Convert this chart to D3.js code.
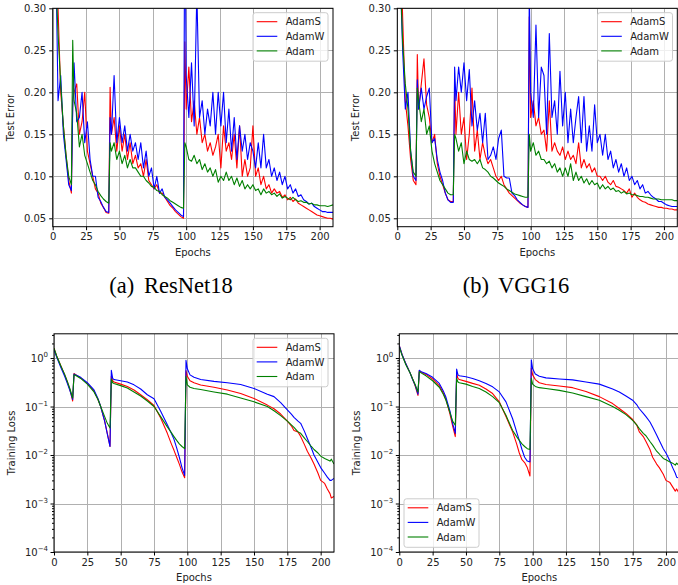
<!DOCTYPE html>
<html><head><meta charset="utf-8">
<script src="https://cdn.jsdelivr.net/npm/d3@7"></script>
<style>
body{margin:0;background:#fff}
svg{display:block}
</style>
</head><body>
<svg id="c" width="678" height="585"></svg>
<script>
// ---------------- DATA ----------------
const seriesNames = ["AdamS", "AdamW", "Adam"];
const xTicks = [0, 25, 50, 75, 100, 125, 150, 175, 200];
const errTicks = [0.05, 0.10, 0.15, 0.20, 0.25, 0.30];
const lossTicks = [1e-4, 1e-3, 1e-2, 1e-1, 1];
const captions = ["(a) ResNet18", "(b) VGG16"];

// Test-error samples (epochs)
const epochsErr = [0,2,4,6,8,10,12,14,15,16,18,20,22,24,26,28,30,32,34,36,38,40,42,43,44,46,48,50,52,54,56,58,60,62,64,66,68,70,72,74,76,78,80,82,84,86,88,90,92,94,96,98,99,100,102,104,106,108,110,112,114,116,118,120,122,124,126,128,130,132,134,136,138,140,142,144,146,148,150,152,154,156,158,160,162,164,166,168,170,172,174,176,178,180,182,184,186,188,190,192,194,196,198,200,202,204,206,208,210];

const resnetErrAdamS = [0.60,0.40,0.30,0.20,0.16,0.125,0.095,0.080,
 0.19,
 0.20,0.21,0.15,0.165,0.20,0.13,0.115,0.10,0.085,0.08,0.068,0.063,0.057,0.056,
 0.206,
 0.15,0.17,0.13,0.16,0.13,0.15,0.12,0.14,0.115,0.125,0.11,0.115,0.10,0.12,0.095,0.09,0.085,0.09,0.08,0.08,0.075,0.07,0.065,0.062,0.058,0.055,0.052,0.050,
 0.26,
 0.18,0.23,0.165,0.19,0.15,0.17,0.14,0.15,0.13,0.14,0.125,0.135,0.15,0.11,0.16,0.13,0.14,0.12,0.15,0.11,0.16,0.10,0.12,0.10,0.11,0.16,0.10,0.11,0.09,0.10,0.085,0.09,0.08,0.085,0.08,0.082,0.075,0.078,0.072,0.075,0.07,0.073,0.068,0.066,0.064,0.062,0.06,0.058,0.056,0.054,0.053,0.052,0.051,0.050,0.050,0.049];
const resnetErrAdamW = [0.60,0.40,0.19,0.22,0.15,0.12,0.09,0.083,
 0.18,
 0.235,0.165,0.17,0.20,0.14,0.165,0.12,0.10,0.10,0.075,0.07,0.063,0.058,0.057,
 0.17,
 0.15,0.22,0.14,0.17,0.14,0.16,0.13,0.15,0.13,0.14,0.12,0.14,0.11,0.13,0.10,0.11,0.085,0.10,0.08,0.085,0.075,0.072,0.068,0.064,0.06,0.057,0.054,0.052,
 0.45,
 0.22,0.17,0.235,0.16,0.32,0.17,0.19,0.15,0.18,0.16,0.20,0.15,0.20,0.16,0.20,0.14,0.18,0.13,0.17,0.12,0.16,0.13,0.15,0.12,0.14,0.13,0.11,0.14,0.11,0.15,0.11,0.12,0.10,0.11,0.095,0.105,0.09,0.10,0.085,0.09,0.08,0.085,0.076,0.078,0.072,0.07,0.067,0.068,0.064,0.062,0.060,0.058,0.058,0.057,0.057,0.057];
const resnetErrAdam = [0.60,0.35,0.27,0.21,0.16,0.125,0.10,0.09,
 0.262,
 0.19,0.175,0.135,0.15,0.125,0.115,0.105,0.095,0.09,0.082,0.077,0.073,0.07,0.068,
 0.14,
 0.13,0.14,0.12,0.13,0.115,0.125,0.11,0.12,0.11,0.11,0.105,0.10,0.10,0.095,0.092,0.088,0.087,0.083,0.082,0.078,0.076,0.074,0.071,0.069,0.067,0.065,0.063,0.062,
 0.14,
 0.135,0.12,0.118,0.125,0.115,0.12,0.108,0.115,0.105,0.11,0.10,0.108,0.093,0.10,0.095,0.105,0.095,0.10,0.09,0.098,0.088,0.095,0.085,0.09,0.085,0.09,0.083,0.085,0.078,0.085,0.08,0.082,0.078,0.08,0.076,0.079,0.074,0.076,0.074,0.072,0.075,0.072,0.07,0.071,0.069,0.069,0.067,0.068,0.066,0.066,0.065,0.065,0.065,0.064,0.065,0.066];

const vggErrAdamS = [0.60,0.40,0.29,0.19,0.16,0.12,0.095,0.09,
 0.245,
 0.18,0.21,0.24,0.185,0.17,0.14,0.15,0.115,0.10,0.09,0.08,0.072,0.07,0.07,
 0.21,
 0.15,0.20,0.15,0.17,0.12,0.15,0.205,0.13,0.155,0.12,0.14,0.125,0.115,0.12,0.11,0.10,0.095,0.10,0.09,0.085,0.08,0.077,0.074,0.071,0.068,0.066,0.064,0.063,
 0.29,
 0.17,0.19,0.16,0.17,0.15,0.155,0.13,0.19,0.13,0.14,0.13,0.125,0.135,0.12,0.13,0.12,0.125,0.115,0.14,0.11,0.12,0.11,0.115,0.105,0.11,0.10,0.10,0.095,0.10,0.093,0.09,0.095,0.088,0.087,0.085,0.083,0.08,0.085,0.075,0.08,0.075,0.072,0.07,0.069,0.067,0.066,0.065,0.064,0.063,0.063,0.062,0.062,0.061,0.061,0.060,0.060];
const vggErrAdamW = [0.60,0.35,0.25,0.18,0.20,0.13,0.10,0.095,
 0.215,
 0.18,0.205,0.18,0.195,0.205,0.14,0.145,0.12,0.105,0.095,0.08,0.072,0.069,0.069,
 0.23,
 0.19,0.23,0.20,0.235,0.19,0.227,0.16,0.19,0.155,0.175,0.14,0.175,0.12,0.125,0.135,0.12,0.145,0.155,0.10,0.098,0.098,0.08,0.077,0.072,0.069,0.066,0.064,0.063,
 0.32,
 0.20,0.17,0.28,0.17,0.23,0.22,0.15,0.27,0.17,0.19,0.15,0.225,0.16,0.20,0.14,0.18,0.14,0.17,0.195,0.14,0.195,0.13,0.16,0.13,0.185,0.14,0.15,0.125,0.15,0.12,0.13,0.11,0.12,0.105,0.115,0.10,0.11,0.095,0.10,0.09,0.095,0.085,0.09,0.08,0.082,0.078,0.075,0.073,0.07,0.07,0.068,0.066,0.065,0.064,0.064,0.064];
const vggErrAdam = [0.60,0.35,0.26,0.21,0.18,0.13,0.105,0.10,
 0.205,
 0.19,0.165,0.18,0.15,0.16,0.13,0.115,0.105,0.095,0.09,0.085,0.08,0.078,0.078,
 0.15,
 0.145,0.13,0.14,0.115,0.13,0.12,0.118,0.12,0.115,0.12,0.11,0.108,0.105,0.10,0.098,0.095,0.092,0.09,0.088,0.085,0.083,0.081,0.079,0.078,0.077,0.076,0.075,0.075,
 0.15,
 0.13,0.14,0.125,0.13,0.12,0.12,0.115,0.118,0.11,0.115,0.105,0.11,0.10,0.11,0.10,0.115,0.095,0.105,0.095,0.10,0.092,0.097,0.09,0.095,0.09,0.092,0.085,0.09,0.085,0.088,0.084,0.086,0.082,0.083,0.08,0.082,0.079,0.08,0.078,0.078,0.077,0.076,0.076,0.075,0.075,0.074,0.073,0.073,0.073,0.072,0.072,0.072,0.072,0.072,0.071,0.071];

// Training-loss samples (epochs)
const epochsLoss = [0,2,5,8,10,12,14,15,16,20,25,30,33,35,38,40,42,43,44,45,50,55,60,65,70,75,80,85,88,90,92,94,96,98,99,100,102,105,110,120,130,140,150,160,165,170,175,178,180,183,185,188,190,193,195,198,200,203,205,207,208,210];

const resnetLossAdamS = [1.6,1.1,0.7,0.45,0.32,0.22,0.13,
 0.48,0.46,0.39,0.30,0.21,0.14,0.10,0.05,0.028,0.015,
 0.42,0.34,0.32,0.29,0.26,0.22,0.175,0.138,0.105,0.058,0.028,0.017,0.0125,0.009,0.0065,0.0045,0.0034,
 0.55,0.42,0.34,0.31,0.277,0.25,0.22,0.185,0.147,0.107,0.09,0.07,0.05,0.04,0.032,0.03,0.024,0.016,0.012,0.0085,0.0065,0.0042,0.003,0.0026,0.002,0.0016,0.0013,0.0014];
const resnetLossAdamW = [1.5,1.05,0.65,0.42,0.30,0.21,0.14,
 0.47,0.45,0.40,0.31,0.22,0.145,0.10,0.05,0.027,0.015,
 0.56,0.38,0.36,0.34,0.32,0.28,0.23,0.175,0.145,0.08,0.042,0.028,0.021,0.014,0.009,0.0055,0.0038,
 0.9,0.6,0.45,0.4,0.36,0.33,0.31,0.285,0.236,0.18,0.16,0.12,0.085,0.07,0.06,0.05,0.045,0.03,0.022,0.014,0.01,0.007,0.0055,0.0042,0.0035,0.003,0.003,0.0033];
const resnetLossAdam = [1.6,1.1,0.7,0.46,0.33,0.23,0.15,
 0.45,0.44,0.38,0.29,0.20,0.14,0.10,0.062,0.045,0.036,
 0.37,0.31,0.30,0.27,0.24,0.20,0.165,0.13,0.10,0.062,0.038,0.029,0.024,0.02,0.017,0.015,0.0135,
 0.42,0.28,0.25,0.235,0.225,0.20,0.18,0.15,0.125,0.1,0.082,0.065,0.05,0.042,0.037,0.03,0.028,0.022,0.019,0.015,0.013,0.011,0.0095,0.0085,0.008,0.0075,0.0082,0.0065];

const vggLossAdamS = [1.8,1.2,0.75,0.5,0.37,0.26,0.17,
 0.55,0.52,0.46,0.37,0.27,0.19,0.14,0.07,0.04,0.024,
 0.48,0.38,0.36,0.33,0.30,0.275,0.23,0.185,0.125,0.062,0.03,0.017,0.011,0.008,0.007,0.0055,0.0037,
 0.62,0.45,0.36,0.31,0.285,0.265,0.245,0.205,0.16,0.115,0.091,0.072,0.054,0.042,0.03,0.024,0.019,0.013,0.009,0.0065,0.0055,0.004,0.003,0.0027,0.0022,0.0018,0.002,0.0016];
const vggLossAdamW = [1.8,1.2,0.75,0.5,0.36,0.27,0.18,
 0.56,0.53,0.48,0.40,0.30,0.21,0.155,0.08,0.045,0.028,
 0.59,0.45,0.43,0.41,0.38,0.34,0.30,0.255,0.2,0.125,0.056,0.03,0.02,0.013,0.009,0.0075,0.0072,
 0.92,0.6,0.47,0.42,0.39,0.37,0.355,0.32,0.29,0.23,0.2,0.165,0.135,0.11,0.09,0.072,0.062,0.048,0.038,0.026,0.02,0.0135,0.011,0.0075,0.0055,0.0042,0.0035,0.0033];
const vggLossAdam = [1.7,1.15,0.72,0.5,0.37,0.28,0.2,
 0.52,0.50,0.43,0.34,0.25,0.18,0.135,0.075,0.05,0.041,
 0.38,0.32,0.31,0.29,0.26,0.236,0.20,0.16,0.12,0.066,0.032,0.024,0.02,0.017,0.015,0.0135,0.013,
 0.38,0.29,0.26,0.245,0.236,0.215,0.19,0.16,0.135,0.1,0.084,0.068,0.052,0.042,0.035,0.028,0.025,0.019,0.016,0.012,0.0105,0.0085,0.008,0.0072,0.0068,0.0062,0.0068,0.006];

// ---------------- DRAWING ----------------
const colorOf = {AdamS: "#ff0000", AdamW: "#0000ff", Adam: "#008000"};
const FONT = "'DejaVu Sans', sans-serif";
const svg = d3.select("#c");
let clipN = 0;

function drawPanel(o) {
  const x = d3.scaleLinear().domain([0, 210]).range([o.x0, o.x1]);
  const y = (o.log ? d3.scaleLog() : d3.scaleLinear()).domain(o.yDomain).range([o.y1, o.y0]);
  const g = svg.append("g");
  const id = "clip" + (clipN++);
  g.append("clipPath").attr("id", id).append("rect")
    .attr("x", o.x0).attr("y", o.y0).attr("width", o.x1 - o.x0).attr("height", o.y1 - o.y0);

  // grid
  const grid = g.append("g").attr("stroke", "#b0b0b0").attr("stroke-width", 1).attr("shape-rendering", "crispEdges");
  grid.selectAll(".gx").data(xTicks).join("line")
    .attr("x1", d => Math.round(x(d)) + 0.5).attr("x2", d => Math.round(x(d)) + 0.5)
    .attr("y1", o.y0).attr("y2", o.y1);
  grid.selectAll(".gy").data(o.yTicks).join("line")
    .attr("y1", d => Math.round(y(d)) + 0.5).attr("y2", d => Math.round(y(d)) + 0.5)
    .attr("x1", o.x0).attr("x2", o.x1);

  // lines
  const lg = g.append("g").attr("clip-path", `url(#${id})`);
  const line = d3.line().x((d, i) => x(o.epochs[i])).y(d => y(d));
  seriesNames.forEach((name, k) => {
    lg.append("path").datum(o.series[k])
      .attr("fill", "none").attr("stroke", colorOf[name]).attr("stroke-width", 1.1)
      .attr("stroke-linejoin", "round").attr("d", line);
  });

  // frame
  g.append("rect").attr("x", o.x0).attr("y", o.y0).attr("width", o.x1 - o.x0).attr("height", o.y1 - o.y0)
    .attr("fill", "none").attr("stroke", "#000").attr("stroke-width", 1);

  // x axis
  const ax = g.append("g").attr("transform", `translate(0,${o.y1})`)
    .call(d3.axisBottom(x).tickValues(xTicks).tickSize(3.5).tickPadding(3).tickFormat(d3.format("d")));
  ax.select(".domain").remove();
  ax.selectAll("text").attr("font-family", FONT).attr("font-size", 10).attr("fill", "#222");

  // y axis
  const ay = g.append("g").attr("transform", `translate(${o.x0},0)`);
  if (!o.log) {
    ay.call(d3.axisLeft(y).tickValues(o.yTicks).tickSize(3.5).tickPadding(3).tickFormat(d3.format(".2f")));
    ay.selectAll("text").attr("font-family", FONT).attr("font-size", 10).attr("fill", "#222");
  } else {
    ay.call(d3.axisLeft(y).tickValues(o.yTicks).tickSize(3.5).tickFormat(""));
    const minors = [];
    for (let e = -4; e <= 0; e++) for (let m = 2; m <= 9; m++) {
      const v = m * Math.pow(10, e);
      if (v <= o.yDomain[1]) minors.push(v);
    }
    const am = g.append("g").attr("transform", `translate(${o.x0},0)`)
      .call(d3.axisLeft(y).tickValues(minors).tickSize(2).tickFormat(""));
    am.select(".domain").remove();
    o.yTicks.forEach(v => {
      const ex = Math.round(Math.log10(v));
      const t = g.append("text").attr("x", o.x0 - 6).attr("y", y(v) + 4)
        .attr("text-anchor", "end").attr("font-family", FONT).attr("font-size", 10).attr("fill", "#222");
      t.append("tspan").text("10");
      t.append("tspan").attr("dy", -5).attr("font-size", 7).text(ex < 0 ? "\u2212" + (-ex) : String(ex));
    });
  }
  ay.select(".domain").remove();

  // labels
  g.append("text").attr("x", (o.x0 + o.x1) / 2).attr("y", o.y1 + 29)
    .attr("text-anchor", "middle").attr("font-family", FONT).attr("font-size", 10).attr("fill", "#222")
    .text("Epochs");
  g.append("text").attr("transform", `translate(${o.yLabelX},${(o.y0 + o.y1) / 2}) rotate(-90)`)
    .attr("text-anchor", "middle").attr("font-family", FONT).attr("font-size", 10).attr("fill", "#222")
    .text(o.yLabel);

  // legend
  const L = o.legend;
  const lgd = g.append("g");
  lgd.append("rect").attr("x", L.x).attr("y", L.y).attr("width", 75).attr("height", 48.5)
    .attr("rx", 2.5).attr("fill", "#fff").attr("fill-opacity", 0.8).attr("stroke", "#cccccc").attr("stroke-width", 1);
  seriesNames.forEach((name, k) => {
    const yy = L.y + 9 + k * 14.6;
    lgd.append("line").attr("x1", L.x + 3.7).attr("x2", L.x + 24.3).attr("y1", yy).attr("y2", yy)
      .attr("stroke", colorOf[name]).attr("stroke-width", 1.1);
    lgd.append("text").attr("x", L.x + 32.7).attr("y", yy + 3.6)
      .attr("font-family", FONT).attr("font-size", 10).attr("fill", "#222").text(name);
  });
}

const errDomain = [0.04, 0.30];
const lossDomain = [1e-4, Math.pow(10, 0.5)];

drawPanel({x0: 52.7, x1: 333, y0: 8.3, y1: 226.7, log: false, yDomain: errDomain, yTicks: errTicks,
  epochs: epochsErr, series: [resnetErrAdamS, resnetErrAdamW, resnetErrAdam],
  yLabel: "Test Error", yLabelX: 14, legend: {x: 253, y: 12.7}});
drawPanel({x0: 397.3, x1: 677.3, y0: 8.3, y1: 226.7, log: false, yDomain: errDomain, yTicks: errTicks,
  epochs: epochsErr, series: [vggErrAdamS, vggErrAdamW, vggErrAdam],
  yLabel: "Test Error", yLabelX: 359, legend: {x: 597.5, y: 12.7}});
drawPanel({x0: 54, x1: 334, y0: 333.8, y1: 552, log: true, yDomain: lossDomain, yTicks: lossTicks,
  epochs: epochsLoss, series: [resnetLossAdamS, resnetLossAdamW, resnetLossAdam],
  yLabel: "Training Loss", yLabelX: 15, legend: {x: 253, y: 338.3}});
drawPanel({x0: 399.3, x1: 679.3, y0: 333.8, y1: 552, log: true, yDomain: lossDomain, yTicks: lossTicks,
  epochs: epochsLoss, series: [vggLossAdamS, vggLossAdamW, vggLossAdam],
  yLabel: "Training Loss", yLabelX: 360, legend: {x: 404, y: 498.8}});

// captions
[[171, captions[0]], [516, captions[1]]].forEach(([cx, t]) => {
  svg.append("text").attr("x", cx).attr("y", 293).attr("text-anchor", "middle")
    .attr("font-family", "'Liberation Serif', 'Times New Roman', serif").attr("font-size", 22.5)
    .attr("word-spacing", 4).attr("fill", "#000").text(t);
});
</script>
</body></html>
